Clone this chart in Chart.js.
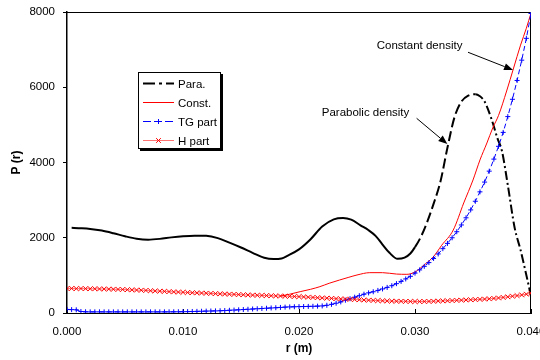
<!DOCTYPE html>
<html lang="en">
<head>
<meta charset="UTF-8">
<title>P(r) vs r</title>
<script src="https://cdn.jsdelivr.net/npm/chart.js"></script>
<style>
  body { margin: 0; background: #fff; }
  #wrap { width: 540px; height: 360px; }
</style>
</head>
<body>
<div id="wrap"><canvas id="prChart" width="540" height="360"></canvas></div>
<script>
// radial grid shared by the TG and H series (m)
const rGrid = [0.0000,0.0004,0.0008,0.0012,0.0016,0.0020,0.0024,0.0028,0.0032,0.0036,
  0.0040,0.0044,0.0048,0.0052,0.0056,0.0060,0.0064,0.0068,0.0072,0.0076,
  0.0080,0.0084,0.0088,0.0092,0.0096,0.0100,0.0104,0.0108,0.0112,0.0116,
  0.0120,0.0124,0.0128,0.0132,0.0136,0.0140,0.0144,0.0148,0.0152,0.0156,
  0.0160,0.0164,0.0168,0.0172,0.0176,0.0180,0.0184,0.0188,0.0192,0.0196,
  0.0200,0.0204,0.0208,0.0212,0.0216,0.0220,0.0224,0.0228,0.0232,0.0236,
  0.0240,0.0244,0.0248,0.0252,0.0256,0.0260,0.0264,0.0268,0.0272,0.0276,
  0.0280,0.0284,0.0288,0.0292,0.0296,0.0300,0.0304,0.0308,0.0312,0.0316,
  0.0320,0.0324,0.0328,0.0332,0.0336,0.0340,0.0344,0.0348,0.0352,0.0356,
  0.0360,0.0364,0.0368,0.0372,0.0376,0.0380,0.0384,0.0388,0.0392,0.0396,
  0.0400];

const tgPart = [95, 90, 85, 40, 32, 30, 30, 30, 30, 30,
  30, 30, 30, 30, 30, 30, 30, 30, 30, 30,
  30, 30, 31, 32, 33, 35, 37, 40, 43, 46,
  50, 53, 56, 60, 65, 72, 78, 85, 92, 99,
  106, 113, 120, 127, 134, 140, 148, 156, 162, 166,
  170, 172, 175, 178, 182, 188, 205, 230, 260, 295,
  340, 380, 420, 460, 500, 535, 565, 600, 640, 680,
  725, 780, 840, 905, 975, 1060, 1145, 1240, 1340, 1450,
  1570, 1710, 1850, 2000, 2160, 2340, 2530, 2740, 2970, 3220,
  3480, 3770, 4090, 4430, 4800, 5220, 5680, 6180, 6720, 7300,
  7960];

const hPart = [650, 652, 648, 650, 647, 645, 644, 640, 638, 635,
  632, 628, 625, 620, 615, 610, 605, 600, 592, 586,
  580, 575, 568, 562, 556, 550, 545, 540, 535, 530,
  525, 520, 515, 510, 505, 500, 495, 490, 485, 480,
  475, 471, 467, 463, 459, 455, 451, 447, 443, 439,
  435, 428, 421, 414, 407, 400, 394, 388, 382, 376,
  370, 364, 358, 352, 346, 340, 335, 330, 325, 320,
  315, 313, 311, 309, 307, 305, 305, 306, 308, 312,
  318, 322, 326, 331, 336, 341, 347, 352, 357, 363,
  370, 378, 388, 400, 414, 430, 446, 462, 480, 500,
  525];

// parabolic density solution
const paraR = [0.0004, 0.0010, 0.0020, 0.0030, 0.0040, 0.0050, 0.0060, 0.0070, 0.0080, 0.0090,
  0.0100, 0.0110, 0.0120, 0.0130, 0.0140, 0.0150, 0.0160, 0.0170, 0.0178, 0.0185,
  0.0190, 0.0200, 0.0210, 0.0220, 0.0230, 0.0238, 0.0245, 0.0253, 0.0260, 0.0266,
  0.0272, 0.0278, 0.0285, 0.0291, 0.0296, 0.0300, 0.0305, 0.0310, 0.0316, 0.0322,
  0.0328, 0.0334, 0.0340, 0.0346, 0.0352, 0.0356, 0.0360, 0.0366, 0.0371, 0.0375,
  0.0380, 0.0386, 0.0391, 0.0395, 0.0400];
const paraP = [2265, 2255, 2235, 2190, 2120, 2040, 1975, 1950, 1970, 2010,
  2040, 2055, 2050, 1990, 1870, 1740, 1600, 1470, 1435, 1450,
  1520, 1690, 1960, 2300, 2490, 2525, 2480, 2330, 2200, 2050,
  1820, 1600, 1440, 1470, 1580, 1750, 2020, 2380, 2900, 3500,
  4400, 5200, 5620, 5780, 5815, 5760, 5620, 5150, 4650, 4300,
  3400, 2250, 1675, 1143, 450];

// constant density solution
const constR = [0.0184, 0.0192, 0.0201, 0.0210, 0.0218, 0.0226, 0.0235, 0.0243, 0.0250, 0.0261,
  0.0272, 0.0284, 0.0293, 0.0300, 0.0308, 0.0316, 0.0323, 0.0333, 0.0342, 0.0350,
  0.0356, 0.0362, 0.0367, 0.0372, 0.0379, 0.0385, 0.0391, 0.0396, 0.0400];
const constP = [450, 500, 567, 630, 700, 790, 877, 950, 1010, 1072,
  1072, 1035, 1028, 1090, 1280, 1500, 1800, 2206, 2924, 3535,
  4067, 4519, 4917, 5250, 5900, 6510, 7120, 7570, 7970];

const xTicks = [0, 0.01, 0.02, 0.03, 0.04];
const yTicks = [0, 2000, 4000, 6000, 8000];
const seriesNames = ['Para.', 'Const.', 'TG part', 'H part'];

const FONT = '"Liberation Sans", Arial, sans-serif';
Chart.defaults.font.family = FONT;
Chart.defaults.font.size = 11.5;
Chart.defaults.color = '#000';

function pts(xs, ys) {
  return xs.map((x, i) => ({ x: x, y: ys[i] }));
}

// arrow with a filled head ending at (x1, y1)
function arrow(ctx, x0, y0, x1, y1) {
  const a = Math.atan2(y1 - y0, x1 - x0), L = 9, W = 3.5;
  const c = Math.cos(a), s = Math.sin(a);
  ctx.beginPath();
  ctx.moveTo(x0, y0);
  ctx.lineTo(x1 - L * c, y1 - L * s);
  ctx.stroke();
  ctx.beginPath();
  ctx.moveTo(x1, y1);
  ctx.lineTo(x1 - L * c + W * s, y1 - L * s - W * c);
  ctx.lineTo(x1 - L * c - W * s, y1 - L * s + W * c);
  ctx.closePath();
  ctx.fill();
}

const extras = {
  id: 'extras',
  beforeDatasetsDraw(chart) {
    const { ctx, chartArea: a, scales: { x } } = chart;
    ctx.save();
    ctx.strokeStyle = '#000';
    ctx.lineWidth = 1;
    ctx.beginPath();
    ctx.moveTo(a.left, a.top + 0.5);
    ctx.lineTo(a.right - 0.5, a.top + 0.5);
    ctx.lineTo(a.right - 0.5, a.bottom);
    ctx.stroke();
    // short inward ticks on the r axis
    xTicks.forEach(v => {
      const px = Math.round(x.getPixelForValue(v)) + 0.5;
      ctx.beginPath();
      ctx.moveTo(px, a.bottom);
      ctx.lineTo(px, a.bottom - 4);
      ctx.stroke();
    });
    ctx.restore();
  },
  afterDatasetsDraw(chart) {
    const { ctx, chartArea: a, scales: { x, y } } = chart;
    ctx.save();

    // legend box with shadow
    const lx = a.left + 71, ly = a.top + 60, lw = 82, lh = 76;
    ctx.fillStyle = '#000';
    ctx.fillRect(lx + 2, ly + 2, lw + 1, lh + 1);
    ctx.fillStyle = '#fff';
    ctx.fillRect(lx, ly, lw, lh);
    ctx.strokeStyle = '#000';
    ctx.lineWidth = 1;
    ctx.strokeRect(lx + 0.5, ly + 0.5, lw, lh);

    chart.data.datasets.forEach((ds, row) => {
      const ry = ly + 11.5 + row * 19;
      ctx.save();
      ctx.strokeStyle = ds.legendLine || ds.borderColor;
      ctx.lineWidth = ds.borderWidth;
      ctx.setLineDash(ds.legendDash || []);
      ctx.beginPath();
      ctx.moveTo(lx + 5, ry);
      ctx.lineTo(lx + 36, ry);
      ctx.stroke();
      ctx.setLineDash([]);
      if (ds.pointRadius > 0) {
        ctx.strokeStyle = ds.pointBorderColor;
        ctx.fillStyle = ds.pointBorderColor;
        Chart.helpers.drawPoint(ctx, {
          pointStyle: ds.pointStyle, radius: ds.pointRadius, rotation: 0, borderWidth: 1
        }, lx + 20.5, ry);
      }
      ctx.restore();
      ctx.fillStyle = '#000';
      ctx.font = '11.5px ' + FONT;
      ctx.textAlign = 'left';
      ctx.textBaseline = 'middle';
      ctx.fillText(ds.label, lx + 40, ry + 1);
    });

    // callouts, placed in data units
    ctx.fillStyle = '#000';
    ctx.strokeStyle = '#000';
    ctx.lineWidth = 1;
    ctx.font = '11.5px ' + FONT;
    ctx.textAlign = 'left';
    ctx.textBaseline = 'middle';
    ctx.fillText('Constant density', x.getPixelForValue(0.0267), y.getPixelForValue(7100));
    arrow(ctx, x.getPixelForValue(0.03457), y.getPixelForValue(6930),
      x.getPixelForValue(0.03845), y.getPixelForValue(6460));
    ctx.fillText('Parabolic density', x.getPixelForValue(0.02196), y.getPixelForValue(5320));
    arrow(ctx, x.getPixelForValue(0.03014), y.getPixelForValue(5175),
      x.getPixelForValue(0.03279), y.getPixelForValue(4490));
    ctx.restore();
  }
};

const ctx = document.getElementById('prChart').getContext('2d');
new Chart(ctx, {
  type: 'line',
  data: {
    datasets: [
      {
        label: seriesNames[0],
        data: pts(paraR, paraP),
        borderColor: '#000',
        borderWidth: 2,
        pointRadius: 0,
        cubicInterpolationMode: 'monotone',
        legendDash: [12, 4, 3, 4],
        segment: {
          borderDash: c => c.p0.parsed.x >= 0.0352 ? [9, 3, 2, 3]
            : (c.p0.parsed.x >= 0.0300 ? [10, 4] : undefined)
        },
        order: 4
      },
      {
        label: seriesNames[1],
        data: pts(constR, constP),
        borderColor: '#ff0000',
        borderWidth: 1,
        pointRadius: 0,
        cubicInterpolationMode: 'monotone',
        order: 3
      },
      {
        label: seriesNames[2],
        data: pts(rGrid, tgPart),
        borderColor: '#0000ff',
        borderWidth: 1,
        borderDash: [5, 3],
        legendDash: [8, 3],
        pointStyle: 'cross',
        pointRadius: 2.5,
        pointBorderWidth: 1,
        pointBorderColor: '#0000ff',
        tension: 0,
        order: 2
      },
      {
        label: seriesNames[3],
        data: pts(rGrid, hPart),
        borderColor: 'rgba(255,0,0,0.55)',
        borderWidth: 1,
        pointStyle: 'crossRot',
        pointRadius: 3.3,
        pointBorderWidth: 1,
        pointBorderColor: '#ff0000',
        tension: 0,
        order: 1
      }
    ]
  },
  options: {
    responsive: false,
    animation: false,
    layout: { padding: { left: 0, top: 12, right: 9, bottom: 0 } },
    plugins: {
      legend: { display: false },
      tooltip: { enabled: false }
    },
    scales: {
      x: {
        type: 'linear',
        min: 0,
        max: 0.04,
        afterFit: s => { s.height = 47; s.paddingLeft = 0; s.paddingRight = 0; },
        afterBuildTicks: s => { s.ticks = xTicks.map(v => ({ value: v })); },
        grid: { display: false, drawTicks: false },
        border: { display: true, color: '#000', width: 1 },
        ticks: { padding: 12, maxRotation: 0, callback: v => v.toFixed(3) },
        title: {
          display: true, text: 'r (m)',
          font: { size: 12, weight: 'bold' },
          padding: { top: 0, bottom: 4 }
        }
      },
      y: {
        min: 0,
        max: 8000,
        afterFit: s => { s.width = 67; s.paddingTop = 0; s.paddingBottom = 0; },
        afterBuildTicks: s => { s.ticks = yTicks.map(v => ({ value: v })); },
        grid: { drawOnChartArea: false, drawTicks: true, tickLength: 4, color: '#000' },
        border: { display: true, color: '#000', width: 1.5 },
        ticks: { padding: 8, callback: v => String(v) },
        title: {
          display: true, text: 'P (r)',
          font: { size: 12, weight: 'bold' },
          padding: { top: 9, bottom: 0 }
        }
      }
    }
  },
  plugins: [extras]
});
</script>
</body>
</html>
